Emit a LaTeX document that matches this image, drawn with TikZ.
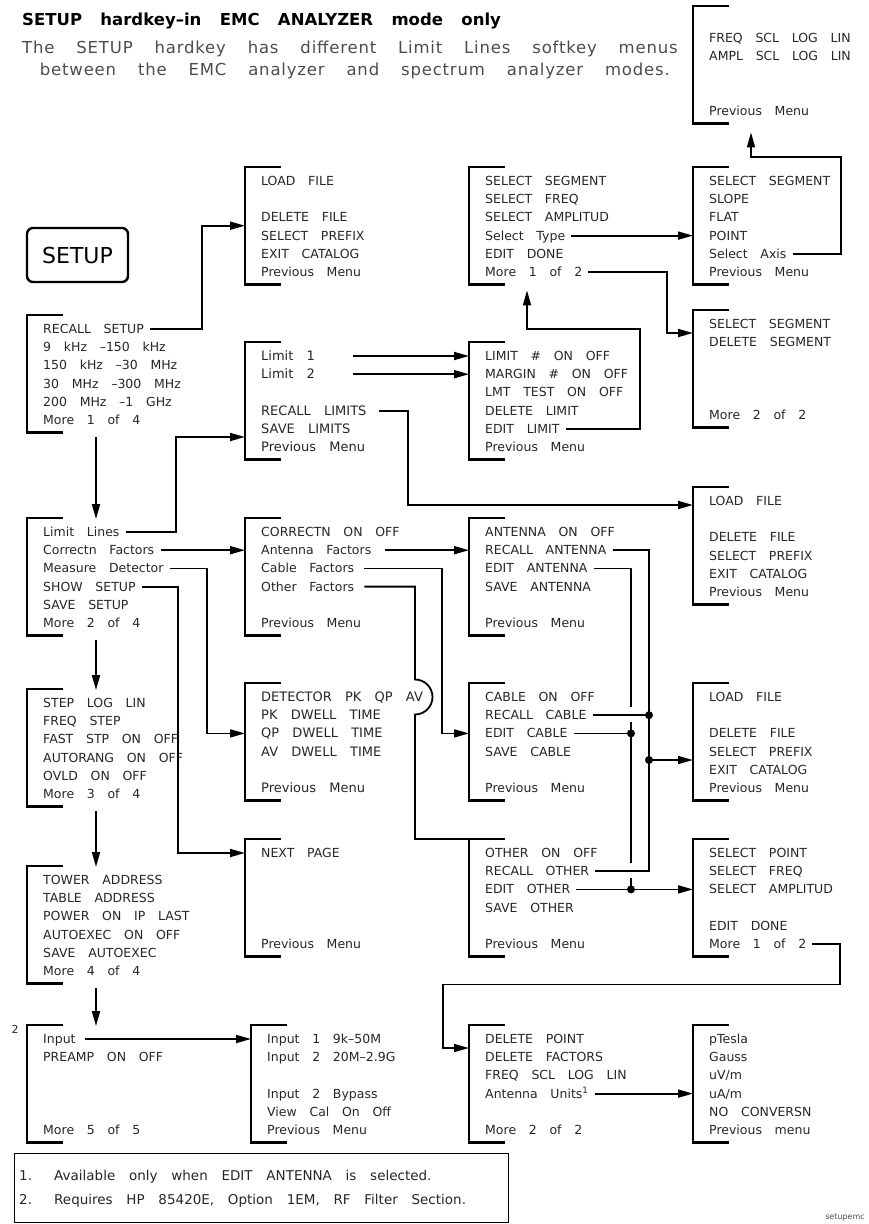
\documentclass[tikz,border=0pt]{standalone}
\usepackage{fontspec}
\setmainfont{DejaVu Sans}[WordSpace=3.2]
\newfontfamily\subfont{DejaVu Sans}[LetterSpace=5,WordSpace=3.6]
\usetikzlibrary{arrows.meta,calc}

\tikzset{
  row/.style={anchor=west,inner sep=0pt,text height=9pt,text depth=0pt,
    font=\fontsize{12.5}{12.5}\selectfont,text=black!85},
  bigrow/.style={row,font=\fontsize{13}{13}\selectfont},
  menu/.style={anchor=north west,inner sep=0pt,minimum width=36pt,minimum height=117pt},
  brk/.style={line width=2.4pt},
  wire/.style={line width=1.8pt},
  con/.style={wire,-{Triangle[length=15pt,width=8pt]}},
  dot/.style={circle,fill,inner sep=0pt,minimum size=8pt},
  note/.style={row,font=\fontsize{13.5}{13.5}\selectfont}
}

\newcommand{\mkmenu}[4][row]{%
  \node[menu] (#2) at (#3) {};
  \draw[brk] ([xshift=36pt]#2.north west) -- (#2.north west) -- (#2.south west) -- ([xshift=36pt]#2.south west);
  \foreach \t [count=\i] in {#4}
    \node[#1] (#2-\i) at ($(#2.north west)+(16,14+18.2*\i-18.2)$) {\t};
}

\begin{document}
\begin{tikzpicture}[x=1pt,y=-1pt]
\useasboundingbox (0,0) rectangle (868,1224);

\node[anchor=west,inner sep=0pt,font=\bfseries\fontsize{16.5}{16.5}\selectfont] (title) at (22,21.5) {SETUP hardkey--in EMC ANALYZER mode only};
\node[anchor=west,inner sep=0pt,text=black!70,font=\subfont\fontsize{16.5}{16.5}\selectfont] (sub1) at (22,49) {The SETUP hardkey has different Limit Lines softkey menus};
\node[anchor=east,inner sep=0pt,text=black!70,font=\subfont\fontsize{16.5}{16.5}\selectfont] (sub2) at (670,71) {between the EMC analyzer and spectrum analyzer modes.};

\node[draw,rounded corners=6pt,line width=2.4pt,minimum width=101pt,minimum height=54pt,font=\fontsize{22}{22}\selectfont] (key) at (77.5,255) {SETUP};

\mkmenu{mTR}{693,6}{{},FREQ SCL LOG LIN,AMPL SCL LOG LIN,{},{},Previous Menu}
\mkmenu{mA}{245,167}{LOAD FILE,{},DELETE FILE,SELECT PREFIX,EXIT CATALOG,Previous Menu}
\mkmenu{mSeg}{469,167}{SELECT SEGMENT,SELECT FREQ,SELECT AMPLITUD,Select Type,EDIT DONE,More 1 of 2}
\mkmenu{mType}{693,167}{SELECT SEGMENT,SLOPE,FLAT,POINT,Select Axis,Previous Menu}
\mkmenu{mRS}{27,315}{RECALL SETUP,9 kHz --150 kHz,150 kHz --30 MHz,30 MHz --300 MHz,200 MHz --1 GHz,More 1 of 4}
\mkmenu{mSeg2}{693,310}{SELECT SEGMENT,DELETE SEGMENT,{},{},{},More 2 of 2}
\mkmenu[bigrow]{mLim}{245,342}{Limit 1,Limit 2,{},RECALL LIMITS,SAVE LIMITS,Previous Menu}
\mkmenu{mLimNo}{469,342}{LIMIT \# ON OFF,MARGIN \# ON OFF,LMT TEST ON OFF,DELETE LIMIT,EDIT LIMIT,Previous Menu}
\mkmenu{mFile2}{693,487}{LOAD FILE,{},DELETE FILE,SELECT PREFIX,EXIT CATALOG,Previous Menu}
\mkmenu{mLL}{27,518}{Limit Lines,Correctn Factors,Measure Detector,SHOW SETUP,SAVE SETUP,More 2 of 4}
\mkmenu{mCorr}{245,518}{CORRECTN ON OFF,Antenna Factors,Cable Factors,Other Factors,{},Previous Menu}
\mkmenu{mAnt}{469,518}{ANTENNA ON OFF,RECALL ANTENNA,EDIT ANTENNA,SAVE ANTENNA,{},Previous Menu}
\mkmenu{mStep}{27,689}{STEP LOG LIN,FREQ STEP,FAST STP ON OFF,AUTORANG ON OFF,OVLD ON OFF,More 3 of 4}
\mkmenu[bigrow]{mDet}{245,683}{DETECTOR PK QP AV,PK DWELL TIME,QP DWELL TIME,AV DWELL TIME,{},Previous Menu}
\mkmenu{mCab}{469,683}{CABLE ON OFF,RECALL CABLE,EDIT CABLE,SAVE CABLE,{},Previous Menu}
\mkmenu{mFile3}{693,683}{LOAD FILE,{},DELETE FILE,SELECT PREFIX,EXIT CATALOG,Previous Menu}
\mkmenu{mTow}{27,866}{TOWER ADDRESS,TABLE ADDRESS,POWER ON IP LAST,AUTOEXEC ON OFF,SAVE AUTOEXEC,More 4 of 4}
\mkmenu{mNext}{245,839}{NEXT PAGE,{},{},{},{},Previous Menu}
\mkmenu{mOth}{469,839}{OTHER ON OFF,RECALL OTHER,EDIT OTHER,SAVE OTHER,{},Previous Menu}
\mkmenu{mPt}{693,839}{SELECT POINT,SELECT FREQ,SELECT AMPLITUD,{},EDIT DONE,More 1 of 2}
\mkmenu{mIn}{27,1025}{Input,PREAMP ON OFF,{},{},{},More 5 of 5}
\mkmenu{mInp}{251,1025}{Input 1 9k--50M,Input 2 20M--2.9G,{},Input 2 Bypass,View Cal On Off,Previous Menu}
\mkmenu{mDel}{469,1025}{DELETE POINT,DELETE FACTORS,FREQ SCL LOG LIN,Antenna Units\textsuperscript{1},{},More 2 of 2}
\mkmenu{mUnit}{693,1025}{pTesla,Gauss,uV/m,uA/m,NO CONVERSN,Previous menu}

\node[inner sep=0pt,font=\fontsize{11}{11}\selectfont,text=black!85] (mark2) at (15,1029) {2};

\foreach \a/\b in {mRS/mLL,mLL/mStep,mStep/mTow,mTow/mIn}
  \draw[con] ($(\a.south west)+(69,5)$) -- ($(\b.north west)+(69,1)$);

\draw[con,shorten <=6pt] (mRS-1.east) -| ($(mA.west)+(-43,0)$) -- (mA.west);
\draw[con,shorten <=6pt] (mLL-1.east) -| ($(mLim.north west)+(-69,95)$) -- ($(mLim.north west)+(0,95)$);
\draw[con,shorten <=7pt] (mLL-2.east) -- (mLL-2.east -| mCorr.west);
\draw[con,shorten <=6pt] (mLL-3.east) -| ($(mDet.west |- mDet-3)+(-38,0)$) -- (mDet.west |- mDet-3);
\draw[con,shorten <=6pt] (mLL-4.east) -| ($(mNext.west |- mNext-1)+(-67,0)$) -- (mNext.west |- mNext-1);

\foreach \i in {1,2}
  \draw[con] ($(mLimNo.west |- mLim-\i)+(-116,0)$) -- (mLimNo.west |- mLim-\i);
\draw[con,shorten <=12pt] (mLim-4.east) -| ($(mFile2.west |- mFile2-1)+(-285,4)$) -- ($(mFile2.west |- mFile2-1)+(0,4)$);
\draw[con,shorten <=6pt] (mLimNo-5.east) -| ($(mLimNo.north west)+(171,-13)$) -| ($(mSeg.south west)+(58,6)$);
\draw[con,shorten <=6pt] (mSeg-4.east) -- (mSeg-4.east -| mType.west);
\draw[con,shorten <=6pt] (mType-5.east) -| ($(mType.north west)+(148,-10)$) -| ($(mTR.south west)+(58,9)$);
\draw[con,shorten <=6pt] (mSeg-6.east) -| ($(mSeg2.north west)+(-26,23)$) -- ($(mSeg2.north west)+(0,23)$);

\draw[con,shorten <=14pt] (mCorr-2.east) -- (mCorr-2.east -| mAnt.west);
\draw[con,shorten <=10pt] (mCorr-3.east) -| ($(mCab.west |- mCab-3)+(-27,0)$) -- (mCab.west |- mCab-3);
\draw[wire,shorten <=10pt] (mCorr-4.east) -| ($(mDet.west |- mDet-1)+(170,-17.5)$)
  arc[start angle=90,end angle=-90,radius=17.5pt] |- (mOth.north west);

\coordinate (busR) at ($(mAnt.west)+(180,0)$);
\coordinate (busL) at ($(mAnt.west)+(162,0)$);
\coordinate (f3in) at ($(mFile3.north west)+(0,77)$);
\draw[wire,shorten <=6pt] (mAnt-2.east) -| (busR |- mOth-2) -- ([xshift=6pt]mOth-2.east);
\draw[wire,shorten <=6pt] (mCab-2.east) -- (busR |- mCab-2);
\draw[con] (busR |- f3in) -- (f3in);
\draw[wire,shorten <=6pt] (mAnt-3.east) -| ($(busL |- mCab-2)+(0,-8)$);
\draw[wire] ($(busL |- mCab-2)+(0,7)$) -- ($(busL |- mOth-2)+(0,-8)$);
\draw[wire] ($(busL |- mOth-2)+(0,7)$) -- (busL |- mOth-3);
\draw[wire,shorten <=6pt] (mCab-3.east) -- (busL |- mCab-3);
\draw[con,shorten <=6pt] (mOth-3.east) -- (mOth-3.east -| mPt.west);
\node[dot] (j1) at (busR |- mCab-2) {};
\node[dot] (j2) at (busR |- f3in) {};
\node[dot] (j3) at (busL |- mCab-3) {};
\node[dot] (j4) at (busL |- mOth-3) {};

\draw[con,shorten <=6pt] (mPt-6.east) -| ($(mPt.south west)+(147,28)$) -| ($(mDel.north west)+(-26,23)$) -- ($(mDel.north west)+(0,23)$);
\draw[con,shorten <=6pt] (mDel-4.east) -- (mDel-4.east -| mUnit.west);
\draw[con,shorten <=9pt] (mIn-1.east) -- (mIn-1.east -| mInp.west);

\node[draw,line width=1.2pt,anchor=north west,inner sep=0pt,minimum width=494pt,minimum height=69pt] (notes) at (14,1153) {};
\node[note] (n1) at ($(notes.north west)+(5,23)$) {\makebox[35pt][l]{1.}Available only when EDIT ANTENNA is selected.};
\node[note] (n2) at ($(notes.north west)+(5,47)$) {\makebox[35pt][l]{2.}Requires HP 85420E, Option 1EM, RF Filter Section.};

\node[anchor=south east,inner sep=0pt,font=\fontsize{8}{8}\selectfont,text=black!70] (figname) at (865,1221) {setupemc};
\end{tikzpicture}
\end{document}
